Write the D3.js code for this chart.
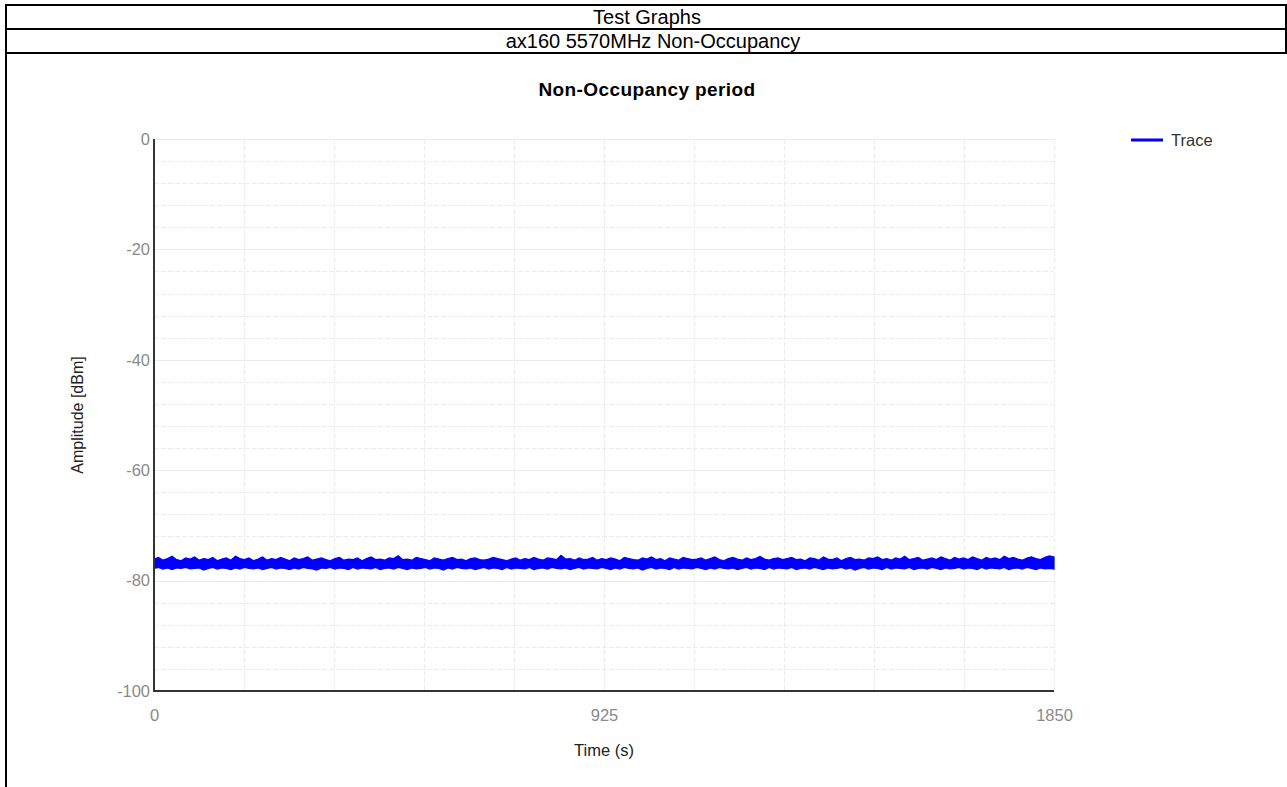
<!DOCTYPE html>
<html><head><meta charset="utf-8">
<script src="https://cdn.jsdelivr.net/npm/d3@7"></script>
<style>body{margin:0;background:#fff;}svg{display:block;}</style>
</head><body>
<script>
const headerTitle = "Test Graphs";
const headerSubtitle = "ax160 5570MHz Non-Occupancy";
const chartTitle = "Non-Occupancy period";
const xLabel = "Time (s)";
const yLabel = "Amplitude [dBm]";
const seriesName = "Trace";
const xTicks = [0, 925, 1850];
const yTicks = [0, -20, -40, -60, -80, -100];
const xDomain = [0, 1850];
const yDomain = [-100, 0];
const sampleStep = 9.25; // seconds between envelope samples
// upper envelope of the trace (dBm), one value per sample
const traceHigh = [
-76.1,-75.8,-76.3,-76.0,-75.6,-76.2,-76.4,-75.9,-76.1,-75.7,-76.3,-76.0,-76.2,-75.8,-76.4,-76.1,-75.9,-76.3,-75.6,-76.0,
-76.2,-75.9,-76.4,-76.1,-75.7,-76.3,-76.0,-76.2,-75.8,-76.1,-76.4,-75.9,-76.2,-76.0,-75.7,-76.3,-76.1,-75.9,-76.2,-76.4,
-76.0,-75.8,-76.3,-76.1,-76.2,-75.9,-76.4,-76.0,-75.7,-76.2,-76.1,-76.3,-75.9,-76.0,-75.5,-76.2,-76.1,-76.3,-75.8,-76.0,
-76.2,-76.4,-75.9,-76.1,-76.3,-76.0,-75.8,-76.2,-76.1,-76.4,-76.0,-75.9,-76.2,-76.3,-76.1,-75.8,-76.0,-76.2,-76.4,-76.1,
-75.9,-76.3,-76.0,-76.2,-75.8,-76.1,-76.3,-75.9,-76.0,-76.2,-75.4,-76.1,-76.0,-76.3,-75.9,-76.2,-76.1,-75.8,-76.3,-76.0,
-76.2,-75.9,-76.1,-76.4,-75.8,-76.0,-76.2,-76.3,-75.9,-76.1,-75.7,-76.2,-76.0,-76.4,-75.9,-76.1,-76.3,-75.8,-76.0,-76.2,
-76.1,-75.9,-76.3,-76.0,-75.7,-76.2,-76.4,-76.0,-75.8,-76.1,-76.3,-75.9,-76.2,-76.0,-75.6,-76.1,-76.3,-76.0,-75.9,-76.2,
-76.0,-75.8,-76.2,-76.1,-76.4,-75.9,-76.0,-76.3,-75.7,-76.1,-76.2,-75.9,-76.4,-76.0,-75.8,-76.2,-76.1,-76.3,-75.9,-76.0,
-75.7,-76.2,-76.0,-76.3,-75.9,-76.1,-75.6,-76.2,-76.0,-75.8,-76.3,-76.1,-75.9,-76.2,-75.7,-76.0,-76.3,-75.8,-76.1,-75.9,
-76.2,-75.7,-76.0,-76.3,-75.8,-76.1,-75.9,-76.2,-75.6,-76.0,-75.8,-76.1,-76.3,-75.9,-75.7,-76.0,-76.2,-75.8,-75.5,-75.7
];
// lower envelope of the trace (dBm), one value per sample
const traceLow = [
-77.8,-77.6,-77.9,-77.7,-78.0,-77.7,-77.8,-77.6,-77.9,-77.8,-77.7,-78.1,-77.8,-77.6,-77.9,-77.7,-77.8,-78.0,-77.7,-77.9,
-77.6,-77.8,-77.9,-77.7,-78.0,-77.8,-77.6,-77.9,-77.7,-77.8,-78.0,-77.7,-77.9,-77.6,-77.8,-77.9,-78.1,-77.7,-77.8,-77.6,
-77.9,-77.7,-77.8,-78.0,-77.6,-77.9,-77.7,-77.8,-77.9,-77.6,-78.0,-77.8,-77.7,-77.9,-77.6,-77.8,-78.0,-77.7,-77.9,-77.8,
-77.6,-77.9,-77.7,-77.8,-78.1,-77.7,-77.9,-77.6,-77.8,-77.9,-77.7,-78.0,-77.8,-77.6,-77.9,-77.7,-77.8,-78.0,-77.6,-77.9,
-77.7,-77.8,-77.9,-77.6,-78.0,-77.8,-77.7,-77.9,-77.6,-77.8,-77.9,-77.7,-78.0,-77.8,-77.6,-77.9,-77.7,-77.8,-77.9,-77.6,
-77.8,-78.0,-77.7,-77.9,-77.6,-77.8,-77.9,-77.7,-78.1,-77.8,-77.6,-77.9,-77.7,-77.8,-78.0,-77.6,-77.9,-77.7,-77.8,-77.9,
-77.6,-77.8,-78.0,-77.7,-77.9,-77.6,-77.8,-77.9,-77.7,-78.0,-77.8,-77.6,-77.9,-77.7,-77.8,-78.0,-77.6,-77.9,-77.7,-77.8,
-77.9,-77.6,-78.0,-77.8,-77.7,-77.9,-77.6,-77.8,-78.0,-77.7,-77.9,-77.8,-77.6,-77.9,-77.7,-78.1,-77.8,-77.6,-77.9,-77.7,
-77.8,-78.0,-77.6,-77.9,-77.7,-77.8,-77.9,-77.6,-78.0,-77.8,-77.7,-77.9,-77.6,-77.8,-78.0,-77.7,-77.9,-77.8,-77.6,-77.9,
-77.7,-77.8,-78.0,-77.6,-77.9,-77.7,-77.8,-77.9,-77.6,-78.0,-77.8,-77.7,-77.9,-77.6,-77.8,-78.0,-77.7,-77.9,-77.8,-77.9
];

const W = 1287, H = 787;
const FONT = "Liberation Sans, Arial, sans-serif";
const svg = d3.select("body").append("svg").attr("width", W).attr("height", H);

// table frame
const frame = svg.append("g").attr("stroke", "#000").attr("stroke-width", 2);
frame.append("line").attr("x1", 6).attr("x2", 1287).attr("y1", 5).attr("y2", 5);
frame.append("line").attr("x1", 6).attr("x2", 1287).attr("y1", 29).attr("y2", 29);
frame.append("line").attr("x1", 6).attr("x2", 1287).attr("y1", 53).attr("y2", 53);
frame.append("line").attr("x1", 6).attr("x2", 6).attr("y1", 4).attr("y2", 787);
frame.append("line").attr("x1", 1286).attr("x2", 1286).attr("y1", 4).attr("y2", 53);

svg.append("text").attr("x", 647).attr("y", 24).attr("text-anchor", "middle")
  .attr("font-family", FONT).attr("font-size", 20).attr("fill", "#000").text(headerTitle);
svg.append("text").attr("x", 653).attr("y", 48).attr("text-anchor", "middle")
  .attr("font-family", FONT).attr("font-size", 20).attr("fill", "#000").text(headerSubtitle);

// plot
const pLeft = 154, pRight = 1054, pTop = 139, pBottom = 691;
const x = d3.scaleLinear().domain(xDomain).range([pLeft, pRight]);
const y = d3.scaleLinear().domain(yDomain).range([pBottom, pTop]);

const grid = svg.append("g");
grid.selectAll("line.hmin").data(d3.range(-96, 0, 4).filter(v => v % 20 !== 0)).join("line")
  .attr("x1", pLeft).attr("x2", pRight).attr("y1", d => Math.round(y(d)) + 0.5).attr("y2", d => Math.round(y(d)) + 0.5)
  .attr("stroke", "#ececec").attr("stroke-dasharray", "5,2");
grid.selectAll("line.hmaj").data(yTicks.filter(v => v !== -100)).join("line")
  .attr("x1", pLeft).attr("x2", pRight).attr("y1", d => Math.round(y(d)) + 0.5).attr("y2", d => Math.round(y(d)) + 0.5)
  .attr("stroke", "#ebebeb");
grid.selectAll("line.v").data(d3.range(1, 11).map(i => i * 185)).join("line")
  .attr("x1", d => Math.round(x(d)) + 0.5).attr("x2", d => Math.round(x(d)) + 0.5).attr("y1", pTop).attr("y2", pBottom)
  .attr("stroke", "#ececec").attr("stroke-dasharray", "5,2");

// trace: band between envelopes, outlined with the jagged trace edge
const samples = traceHigh.map((v, i) => ({ t: Math.min(i * sampleStep * 200 / 199, xDomain[1]), hi: v, lo: traceLow[i] }));
svg.append("path").datum(samples)
  .attr("fill", "#0000ff").attr("stroke", "#0000ff").attr("stroke-width", 1.2).attr("stroke-linejoin", "miter")
  .attr("d", d3.area().x(d => x(d.t)).y0(d => y(d.lo)).y1(d => y(d.hi)));

// axes lines
svg.append("line").attr("x1", pLeft).attr("x2", pLeft).attr("y1", pTop).attr("y2", pBottom + 1)
  .attr("stroke", "#333").attr("stroke-width", 2);
svg.append("line").attr("x1", pLeft).attr("x2", pRight).attr("y1", pBottom).attr("y2", pBottom)
  .attr("stroke", "#333").attr("stroke-width", 2);

// tick labels via axes
const fmt = d => String(d);
const yAxis = d3.axisLeft(y).tickValues(yTicks).tickFormat(fmt).tickSize(0).tickPadding(4);
const gy = svg.append("g").attr("transform", `translate(${pLeft},0)`).call(yAxis);
gy.select(".domain").remove();
gy.selectAll("text").attr("font-family", FONT).attr("font-size", 16.5).attr("fill", "#8a8a8a");

const xAxis = d3.axisBottom(x).tickValues(xTicks).tickFormat(fmt).tickSize(0).tickPadding(18);
const gx = svg.append("g").attr("transform", `translate(0,${pBottom})`).call(xAxis);
gx.select(".domain").remove();
gx.selectAll("text").attr("font-family", FONT).attr("font-size", 16.5).attr("fill", "#8a8a8a");

// titles
svg.append("text").attr("x", 647).attr("y", 96).attr("text-anchor", "middle")
  .attr("font-family", FONT).attr("font-weight", "bold").attr("font-size", 19).attr("letter-spacing", 0.4).attr("fill", "#000").text(chartTitle);
svg.append("text").attr("x", 604).attr("y", 756).attr("text-anchor", "middle")
  .attr("font-family", FONT).attr("font-size", 16.5).attr("fill", "#222").text(xLabel);
svg.append("text").attr("transform", "translate(83,415) rotate(-90)").attr("text-anchor", "middle")
  .attr("font-family", FONT).attr("font-size", 16).attr("fill", "#222").text(yLabel);

// legend
svg.append("line").attr("x1", 1131).attr("x2", 1163).attr("y1", 140).attr("y2", 140)
  .attr("stroke", "#0000ff").attr("stroke-width", 3);
svg.append("text").attr("x", 1171).attr("y", 146)
  .attr("font-family", FONT).attr("font-size", 16.5).attr("fill", "#333").text(seriesName);
</script>
</body></html>
